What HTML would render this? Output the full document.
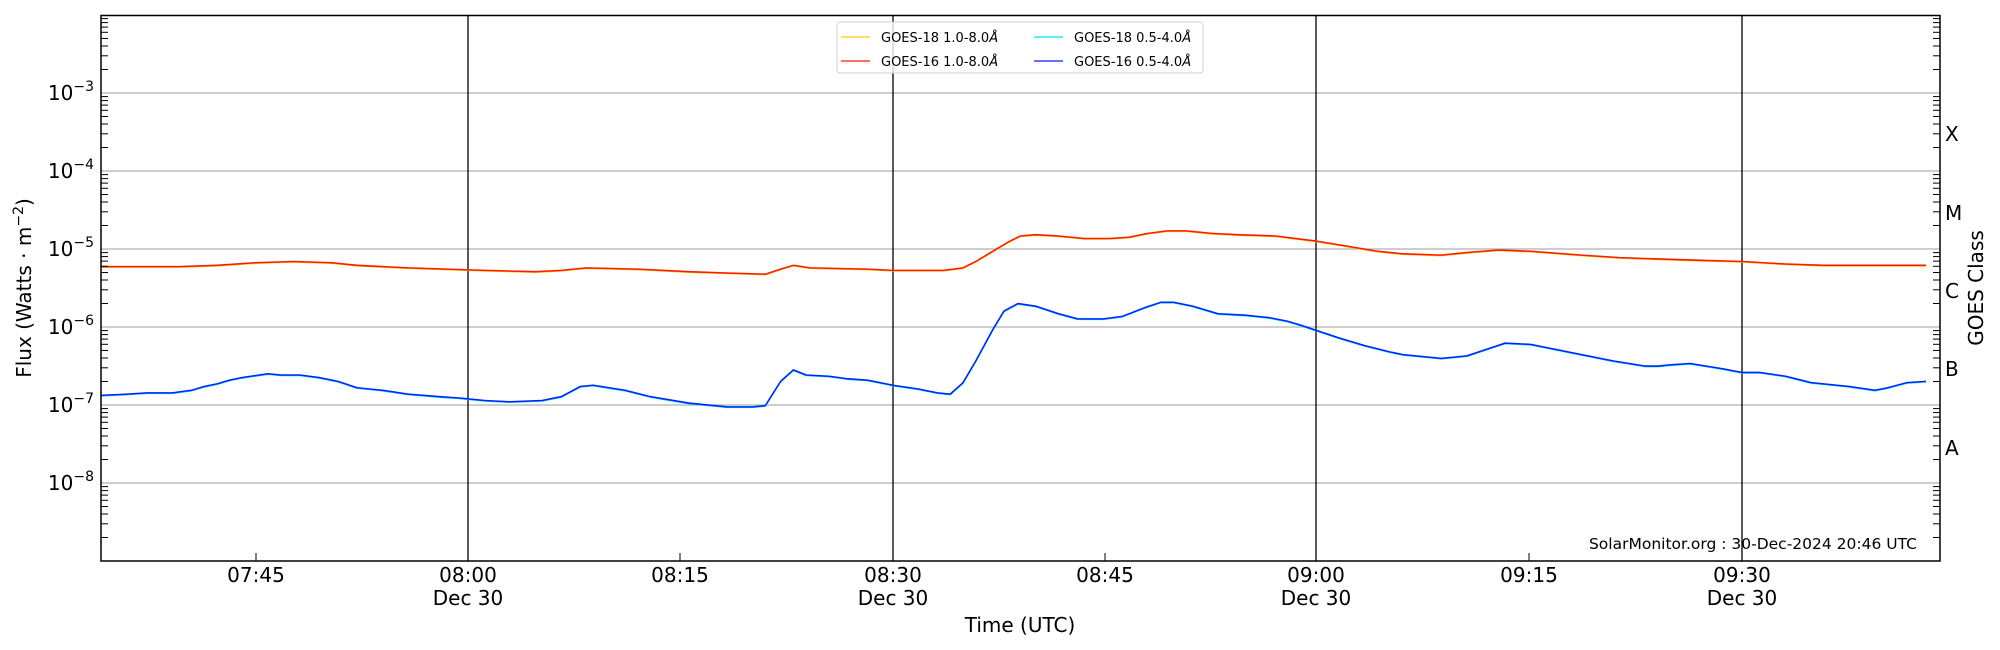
<!DOCTYPE html>
<html><head><meta charset="utf-8"><style>
html,body{margin:0;padding:0;background:#fff;}
svg{display:block;font-family:"DejaVu Sans","Liberation Sans",sans-serif;}
</style></head><body>
<svg width="2000" height="650" viewBox="0 0 2000 650" xmlns="http://www.w3.org/2000/svg">
<defs>
<g id="dec" stroke="#000" stroke-width="1">
<line x1="101" x2="108" y1="-23.5" y2="-23.5"/><line x1="101" x2="108" y1="-37.2" y2="-37.2"/>
<line x1="101" x2="108" y1="-47" y2="-47"/><line x1="101" x2="108" y1="-54.5" y2="-54.5"/>
<line x1="101" x2="108" y1="-60.7" y2="-60.7"/><line x1="101" x2="108" y1="-65.9" y2="-65.9"/>
<line x1="101" x2="108" y1="-70.4" y2="-70.4"/><line x1="101" x2="108" y1="-74.4" y2="-74.4"/>
<line x1="1933" x2="1940" y1="-23.5" y2="-23.5"/><line x1="1933" x2="1940" y1="-37.2" y2="-37.2"/>
<line x1="1933" x2="1940" y1="-47" y2="-47"/><line x1="1933" x2="1940" y1="-54.5" y2="-54.5"/>
<line x1="1933" x2="1940" y1="-60.7" y2="-60.7"/><line x1="1933" x2="1940" y1="-65.9" y2="-65.9"/>
<line x1="1933" x2="1940" y1="-70.4" y2="-70.4"/><line x1="1933" x2="1940" y1="-74.4" y2="-74.4"/>
</g>
</defs>
<rect width="2000" height="650" fill="#fff"/>
<g stroke="#b0b0b0" stroke-width="1.2">
<line x1="101" x2="1940" y1="93" y2="93"/><line x1="101" x2="1940" y1="171" y2="171"/>
<line x1="101" x2="1940" y1="249" y2="249"/><line x1="101" x2="1940" y1="327" y2="327"/>
<line x1="101" x2="1940" y1="405" y2="405"/><line x1="101" x2="1940" y1="483" y2="483"/>
</g>
<g stroke="#000" stroke-width="1.3">
<line x1="468" y1="15" x2="468" y2="561"/>
<line x1="893" y1="15" x2="893" y2="561"/>
<line x1="1316" y1="15" x2="1316" y2="561"/>
<line x1="1742" y1="15" x2="1742" y2="561"/>
</g>
<g transform="scale(1.2755)" fill="none" stroke-linejoin="round">
<polyline stroke="#ffcc00" stroke-width="1.2" transform="translate(0,0.4)" points="79,209 100,209 140,209 170,208 200,206 230,205 260,206 280,208 320,210 350,211 380,212 420,213 440,212 460,210 500,211 540,213 570,214 600,215 612,211 622,208 635,210 680,211 700,212 720,212 740,212 755,210 765,205 775,199 790,190 800,185 812,184 830,185 850,187 870,187 885,186 900,183 915,181 930,181 950,183 970,184 1000,185 1032,189 1050,192 1080,197 1100,199 1130,200 1150,198 1175,196 1200,197 1240,200 1270,202 1300,203 1330,204 1366,205 1400,207 1430,208 1460,208 1510,208"/>
<polyline stroke="#ff1a00" stroke-width="1.2" points="79,209 100,209 140,209 170,208 200,206 230,205 260,206 280,208 320,210 350,211 380,212 420,213 440,212 460,210 500,211 540,213 570,214 600,215 612,211 622,208 635,210 680,211 700,212 720,212 740,212 755,210 765,205 775,199 790,190 800,185 812,184 830,185 850,187 870,187 885,186 900,183 915,181 930,181 950,183 970,184 1000,185 1032,189 1050,192 1080,197 1100,199 1130,200 1150,198 1175,196 1200,197 1240,200 1270,202 1300,203 1330,204 1366,205 1400,207 1430,208 1460,208 1510,208"/>
<polyline stroke="#00e5ff" stroke-width="1.2" transform="translate(0,0.4)" points="79,310 100,309 115,308 135,308 150,306 160,303 170,301 180,298 190,296 210,293 220,294 235,294 250,296 265,299 280,304 300,306 320,309 345,311 360,312 380,314 400,315 425,314 440,311 455,303 465,302 490,306 510,311 540,316 570,319 590,319 600,318 612,299 622,290 632,294 650,295 665,297 680,298 700,302 720,305 735,308 745,309 755,300 765,283 778,259 787,244 798,238 812,240 830,246 845,250 865,250 880,248 898,241 910,237 920,237 935,240 955,246 975,247 995,249 1010,252 1020,255 1032,259 1050,265 1070,271 1090,276 1100,278 1130,281 1150,279 1165,274 1180,269 1200,270 1220,274 1240,278 1265,283 1290,287 1300,287 1310,286 1325,285 1350,289 1366,292 1380,292 1400,295 1420,300 1450,303 1470,306 1480,304 1495,300 1510,299"/>
<polyline stroke="#0022ff" stroke-width="1.2" points="79,310 100,309 115,308 135,308 150,306 160,303 170,301 180,298 190,296 210,293 220,294 235,294 250,296 265,299 280,304 300,306 320,309 345,311 360,312 380,314 400,315 425,314 440,311 455,303 465,302 490,306 510,311 540,316 570,319 590,319 600,318 612,299 622,290 632,294 650,295 665,297 680,298 700,302 720,305 735,308 745,309 755,300 765,283 778,259 787,244 798,238 812,240 830,246 845,250 865,250 880,248 898,241 910,237 920,237 935,240 955,246 975,247 995,249 1010,252 1020,255 1032,259 1050,265 1070,271 1090,276 1100,278 1130,281 1150,279 1165,274 1180,269 1200,270 1220,274 1240,278 1265,283 1290,287 1300,287 1310,286 1325,285 1350,289 1366,292 1380,292 1400,295 1420,300 1450,303 1470,306 1480,304 1495,300 1510,299"/>
</g>
<use href="#dec" transform="translate(0,561)"/>
<use href="#dec" transform="translate(0,483)"/>
<use href="#dec" transform="translate(0,405)"/>
<use href="#dec" transform="translate(0,327)"/>
<use href="#dec" transform="translate(0,249)"/>
<use href="#dec" transform="translate(0,171)"/>
<use href="#dec" transform="translate(0,93)"/>
<g stroke="#000" stroke-width="1">
<line x1="256" y1="561" x2="256" y2="553"/>
<line x1="680" y1="561" x2="680" y2="553"/>
<line x1="1105" y1="561" x2="1105" y2="553"/>
<line x1="1529" y1="561" x2="1529" y2="553"/>
</g>
<rect x="101" y="15.5" width="1839" height="545.5" fill="none" stroke="#000" stroke-width="1.5"/>
<g font-size="20" fill="#000" text-anchor="end">
<text x="94" y="100">10<tspan font-size="14" dy="-9">−3</tspan></text>
<text x="94" y="178">10<tspan font-size="14" dy="-9">−4</tspan></text>
<text x="94" y="256">10<tspan font-size="14" dy="-9">−5</tspan></text>
<text x="94" y="334">10<tspan font-size="14" dy="-9">−6</tspan></text>
<text x="94" y="412">10<tspan font-size="14" dy="-9">−7</tspan></text>
<text x="94" y="490">10<tspan font-size="14" dy="-9">−8</tspan></text>
</g>
<g font-size="20" text-anchor="middle" fill="#000">
<text x="256" y="582">07:45</text>
<text x="468" y="582">08:00</text><text x="468" y="605">Dec 30</text>
<text x="680" y="582">08:15</text>
<text x="893" y="582">08:30</text><text x="893" y="605">Dec 30</text>
<text x="1105" y="582">08:45</text>
<text x="1316" y="582">09:00</text><text x="1316" y="605">Dec 30</text>
<text x="1529" y="582">09:15</text>
<text x="1742" y="582">09:30</text><text x="1742" y="605">Dec 30</text>
<text x="1020" y="632">Time (UTC)</text>
<text transform="translate(31,288) rotate(-90)">Flux (Watts · m<tspan font-size="14" dy="-8">−2</tspan><tspan dy="8">)</tspan></text>
<text transform="translate(1983,288) rotate(-90)">GOES Class</text>
</g>
<g font-size="20" fill="#000">
<text x="1945" y="141">X</text>
<text x="1945" y="220">M</text>
<text x="1945" y="298">C</text>
<text x="1945" y="376">B</text>
<text x="1945" y="455">A</text>
</g>
<text x="1917" y="549" font-size="15.5" text-anchor="end" fill="#000">SolarMonitor.org : 30-Dec-2024 20:46 UTC</text>
<g>
<rect x="837" y="22" width="366" height="51" rx="3" fill="#fff" fill-opacity="0.8" stroke="#d0d0d0"/>
<g stroke-width="1.3">
<line x1="841" y1="37" x2="870" y2="37" stroke="#ffcc00"/>
<line x1="841" y1="61" x2="870" y2="61" stroke="#ff1a00"/>
<line x1="1034" y1="37" x2="1063" y2="37" stroke="#00e5ff"/>
<line x1="1034" y1="61" x2="1063" y2="61" stroke="#0022ff"/>
</g>
<g font-size="13" fill="#000">
<text x="881" y="42">GOES-18 1.0-8.0<tspan font-style="italic">Å</tspan></text>
<text x="881" y="66">GOES-16 1.0-8.0<tspan font-style="italic">Å</tspan></text>
<text x="1074" y="42">GOES-18 0.5-4.0<tspan font-style="italic">Å</tspan></text>
<text x="1074" y="66">GOES-16 0.5-4.0<tspan font-style="italic">Å</tspan></text>
</g>
</g>
</svg>
</body></html>
